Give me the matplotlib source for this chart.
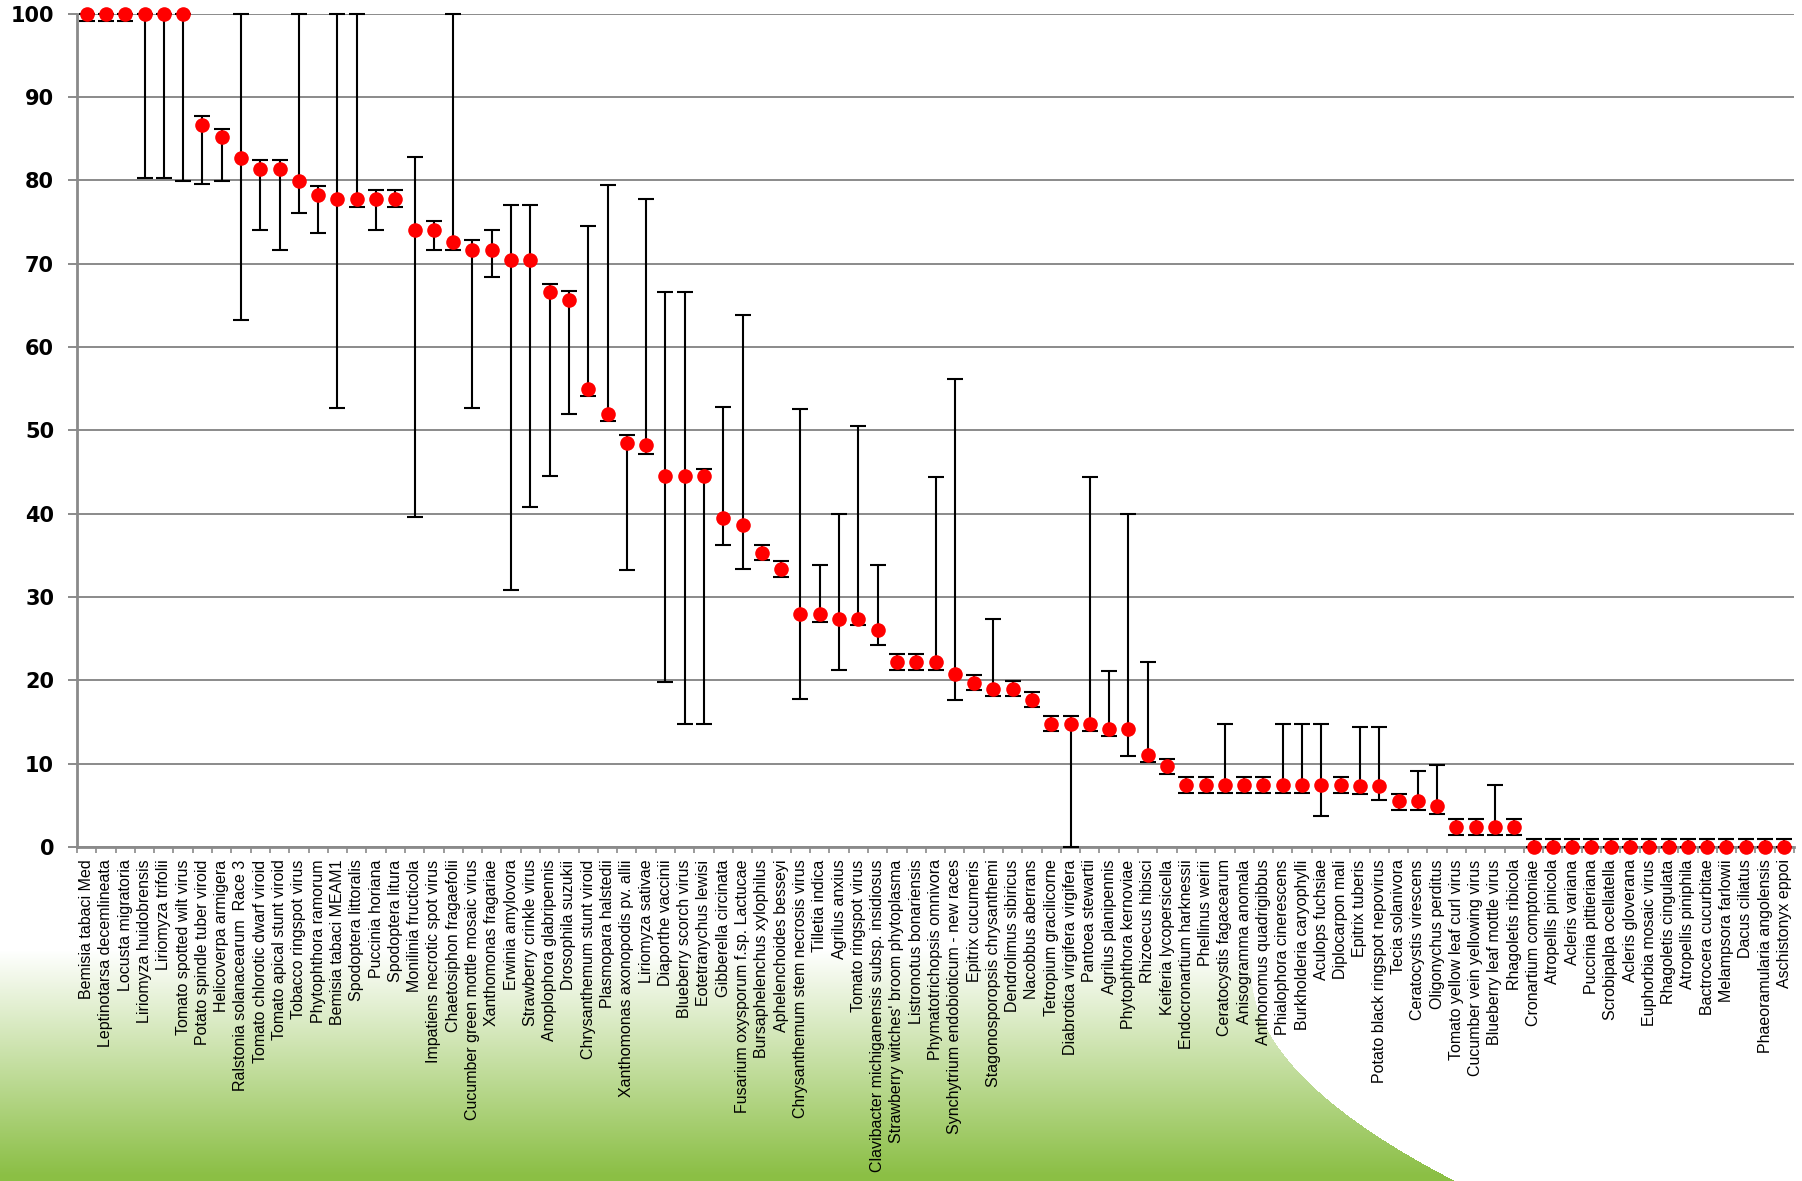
import numpy as np
import matplotlib
matplotlib.use("Agg")
import matplotlib.pyplot as plt

names = [
    "Bemisia tabaci Med", "Leptinotarsa decemlineata", "Locusta migratoria",
    "Liriomyza huidobrensis", "Liriomyza trifolii", "Tomato spotted wilt virus",
    "Potato spindle tuber viroid", "Helicoverpa armigera", "Ralstonia solanacearum  Race 3",
    "Tomato chlorotic dwarf viroid", "Tomato apical stunt viroid", "Tobacco ringspot virus",
    "Phytophthora ramorum", "Bemisia tabaci MEAM1", "Spodoptera littoralis",
    "Puccinia horiana", "Spodoptera litura", "Monilinia fructicola",
    "Impatiens necrotic spot virus", "Chaetosiphon fragaefolii", "Cucumber green mottle mosaic virus",
    "Xanthomonas fragariae", "Erwinia amylovora", "Strawberry crinkle virus",
    "Anoplophora glabripennis", "Drosophila suzukii", "Chrysanthemum stunt viroid",
    "Plasmopara halstedii", "Xanthomonas axonopodis pv. allii", "Liriomyza sativae",
    "Diaporthe vaccinii", "Blueberry scorch virus", "Eotetranychus lewisi",
    "Gibberella circinata", "Fusarium oxysporum f.sp. Lactucae", "Bursaphelenchus xylophilus",
    "Aphelenchoides besseyi", "Chrysanthemum stem necrosis virus", "Tilletia indica",
    "Agrilus anxius", "Tomato ringspot virus", "Clavibacter michiganensis subsp. insidiosus",
    "Strawberry witches' broom phytoplasma", "Listronotus bonariensis", "Phymatotrichopsis omnivora",
    "Synchytrium endobioticum - new races", "Epitrix cucumeris", "Stagonosporopsis chrysanthemi",
    "Dendrolimus sibiricus", "Nacobbus aberrans", "Tetropium gracilicorne",
    "Diabrotica virgifera virgifera", "Pantoea stewartii", "Agrilus planipennis",
    "Phytophthora kernoviae", "Rhizoecus hibisci", "Keiferia lycopersicella",
    "Endocronartium harknessii", "Phellinus weirii", "Ceratocystis fagacearum",
    "Anisogramma anomala", "Anthonomus quadrigibbus", "Phialophora cinerescens",
    "Burkholderia caryophylli", "Aculops fuchsiae", "Diplocarpon mali",
    "Epitrix tuberis", "Potato black ringspot nepovirus", "Tecia solanivora",
    "Ceratocystis virescens", "Oligonychus perditus", "Tomato yellow leaf curl virus",
    "Cucumber vein yellowing virus", "Blueberry leaf mottle virus", "Rhagoletis ribicola",
    "Cronartium comptoniae", "Atropellis pinicola", "Acleris variana",
    "Puccinia pittieriana", "Scrobipalpa ocellatella", "Acleris gloverana",
    "Euphorbia mosaic virus", "Rhagoletis cingulata", "Atropellis piniphila",
    "Bactrocera cucurbitae", "Melampsora farlowii", "Dacus ciliatus",
    "Phaeoramularia angolensis", "Aschistonyx eppoi",
]

values = [
    100, 100, 100, 100, 100, 100, 86.6, 85.2, 82.7, 81.4,
    81.4, 79.9, 78.3, 77.8, 77.8, 77.8, 77.8, 74.1, 74.1, 72.6,
    71.6, 71.6, 70.4, 70.4, 66.6, 65.7, 55.0, 52.0, 48.5, 48.2,
    44.5, 44.5, 44.5, 39.5, 38.7, 35.3, 33.4, 28.0, 28.0, 27.4,
    27.4, 26.1, 22.2, 22.2, 22.2, 20.8, 19.7, 19.0, 19.0, 17.7,
    14.8, 14.8, 14.8, 14.2, 14.2, 11.1, 9.7, 7.4, 7.4, 7.4,
    7.4, 7.4, 7.4, 7.4, 7.4, 7.4, 7.3, 7.3, 5.5, 5.5,
    4.9, 2.4, 2.4, 2.4, 2.4, 0, 0, 0, 0, 0,
    0, 0, 0, 0, 0, 0, 0, 0, 0,
]

upper = [
    100, 100, 100, 100, 100, 100, 87.7, 86.2, 100, 82.5,
    82.5, 100, 79.3, 100, 100, 78.8, 78.8, 82.8, 75.1, 100,
    72.9, 74.1, 77.0, 77.0, 67.6, 66.7, 74.5, 79.5, 49.5, 77.8,
    66.6, 66.6, 45.4, 52.8, 63.8, 36.3, 34.3, 52.6, 33.8, 40.0,
    50.5, 33.8, 23.2, 23.2, 44.4, 56.2, 20.7, 27.4, 19.9, 18.6,
    15.7, 15.7, 44.4, 21.1, 40.0, 22.2, 10.6, 8.4, 8.4, 14.8,
    8.4, 8.4, 14.8, 14.8, 14.8, 8.4, 14.4, 14.4, 6.4, 9.1,
    9.9, 3.4, 3.4, 7.4, 3.4, 1.0, 1.0, 1.0, 1.0, 1.0,
    1.0, 1.0, 1.0, 1.0, 1.0, 1.0, 1.0, 1.0, 1.0,
]

lower = [
    99.1, 99.1, 99.1, 80.3, 80.3, 79.9, 79.6, 79.9, 63.2, 74.1,
    71.6, 76.1, 73.7, 52.7, 76.8, 74.1, 76.8, 39.6, 71.6, 71.6,
    52.7, 68.4, 30.9, 40.8, 44.5, 52.0, 54.1, 51.1, 33.2, 47.2,
    19.8, 14.8, 14.8, 36.2, 33.4, 34.5, 32.4, 17.8, 27.0, 21.2,
    26.6, 24.2, 21.3, 21.3, 21.3, 17.6, 18.8, 18.1, 18.1, 16.8,
    13.9, 0, 13.9, 13.3, 10.9, 10.2, 8.75, 6.5, 6.5, 6.5,
    6.5, 6.5, 6.5, 6.5, 3.75, 6.5, 6.4, 5.6, 4.5, 4.5,
    4.0, 1.5, 1.5, 1.5, 1.5, 0, 0, 0, 0, 0,
    0, 0, 0, 0, 0, 0, 0, 0, 0,
]

W, H = 1802, 1181
fig = plt.figure(figsize=(W / 100, H / 100), dpi=100)

# background decoration: green vertical gradient at the bottom-left,
# bounded on the right by a smooth curved edge
bg = fig.add_axes([0, 0, 1, 1], zorder=-10)
yy, xx = np.mgrid[0:H, 0:W]
t = np.clip((yy - 950) / (1175 - 950), 0, 1)
green = np.array([0x8b, 0xbf, 0x45]) / 255.0
img = np.ones((H, W, 3))
for c in range(3):
    img[..., c] = 1 - (1 - green[c]) * t
edge_y = np.array([981, 1041, 1074, 1108, 1141, 1181])
edge_x = np.array([1250, 1277, 1300, 1337, 1383, 1457])
coef = np.polyfit(edge_y, edge_x, 2)
rows = np.clip(np.arange(H), edge_y[0], None)
xb = np.polyval(coef, rows)
img[xx > xb[:, None]] = 1.0
bg.imshow(img, extent=[0, W, H, 0], aspect="auto", interpolation="bilinear")
bg.set_xlim(0, W)
bg.set_ylim(H, 0)
bg.axis("off")

left, right = 77 / W, 1794 / W
bottom, top = 1 - 847 / H, 1 - 13.7 / H
ax = fig.add_axes([left, bottom, right - left, top - bottom])
ax.patch.set_alpha(0)

n = len(names)
x = np.arange(n)
vals = np.array(values)
err = np.vstack([vals - np.array(lower), np.array(upper) - vals])

ax.errorbar(x, vals, yerr=err, fmt="none", ecolor="black", elinewidth=1.5,
            capsize=5.5, capthick=1.5, zorder=3, clip_on=False)
ax.plot(x, vals, "o", color="#ff0000", markersize=10.5, markeredgewidth=0,
        zorder=4, clip_on=False, linestyle="none")

ax.set_xlim(-0.5, n - 0.5)
ax.set_ylim(0, 100)
ax.set_yticks(np.arange(0, 101, 10))
ax.yaxis.grid(True, color="#8a8a8a", linewidth=1.4)
ax.set_axisbelow(True)

for s in ["top", "right"]:
    ax.spines[s].set_visible(False)
for s in ["left", "bottom"]:
    ax.spines[s].set_color("#8a8a8a")
    ax.spines[s].set_linewidth(2)

ax.tick_params(axis="y", length=6.5, width=1.4, color="#8a8a8a", pad=10,
               labelsize=15)
for lab in ax.get_yticklabels():
    lab.set_fontweight("bold")
    lab.set_family("DejaVu Sans")

ax.set_xticks(x)
ax.set_xticklabels(names, rotation=90, fontsize=11.5, family="Liberation Sans",
                   va="top", ha="center")
ax.tick_params(axis="x", which="major", length=0, pad=9)
ax.set_xticks(np.arange(-0.5, n, 1.0), minor=True)
ax.tick_params(axis="x", which="minor", length=4, width=1.2, color="#8a8a8a")

fig.savefig("out.png", dpi=100)
